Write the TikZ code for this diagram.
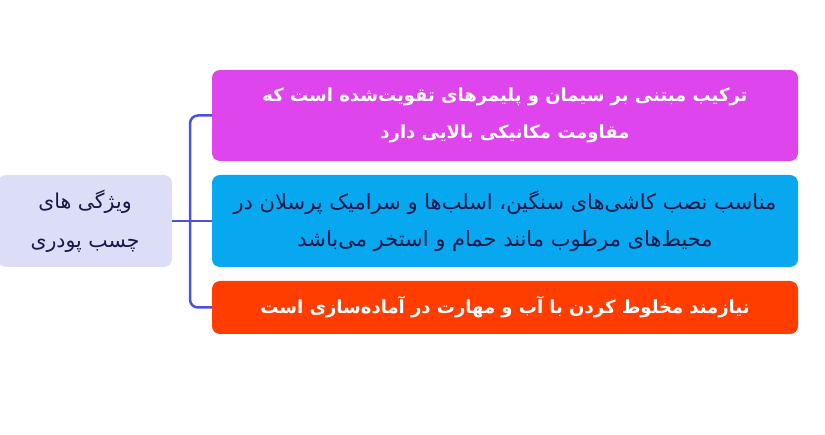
\documentclass[tikz,border=0pt]{standalone}
\usepackage{fontspec}
\TeXXeTstate=1
\newfontfamily\arabicfont[Script=Arabic]{DejaVu Sans}
\definecolor{magbox}{HTML}{DE45EC}
\definecolor{bluebox}{HTML}{07A8F0}
\definecolor{orabox}{HTML}{FF3D00}
\definecolor{rootbox}{HTML}{DCDEF8}
\definecolor{navy}{HTML}{17174A}
\definecolor{conncol}{HTML}{4A52D9}
\tikzset{
  leafbox/.style={rectangle, rounded corners=8pt, minimum width=586pt, inner sep=0pt, align=center,
     font=\arabicfont\fontsize{21}{37}\selectfont},
  boldtext/.style={text=white, font=\arabicfont\bfseries\fontsize{18}{37}\selectfont},
  rootnode/.style={rectangle, rounded corners=8pt, fill=rootbox, text=navy, minimum width=174pt, minimum height=92pt,
     inner sep=0pt, align=center, font=\arabicfont\fontsize{20.5}{39}\selectfont},
  conn/.style={draw=conncol, line width=2.5pt, rounded corners=8pt}
}
\begin{document}
\begin{tikzpicture}[x=1pt,y=-1pt]
\useasboundingbox (0,0) rectangle (825,435);
\node[rootnode] (root) at (85,221) {\beginR ویژگی های\endR\\\beginR چسب پودری\endR};
\node[leafbox, fill=magbox, minimum height=91pt, boldtext] (mag) at (505,115.5)
  {\beginR ترکیب مبتنی بر سیمان و پلیمرهای تقویت‌شده است که\endR\\\beginR مقاومت مکانیکی بالایی دارد\endR};
\node[leafbox, fill=bluebox, text=navy, minimum height=92pt] (blu) at (505,221)
  {\beginR مناسب نصب کاشی‌های سنگین، اسلب‌ها و سرامیک پرسلان در\endR\\\beginR محیط‌های مرطوب مانند حمام و استخر می‌باشد\endR};
\node[leafbox, fill=orabox, minimum height=53pt, boldtext] (ora) at (505,307.5)
  {\beginR نیازمند مخلوط کردن با آب و مهارت در آماده‌سازی است\endR};
\coordinate (jt) at (190,221);
\draw[conn] (mag.west) -| (jt) |- (ora.west);
\draw[conn] (root.east) -- (blu.west);
\end{tikzpicture}
\end{document}
